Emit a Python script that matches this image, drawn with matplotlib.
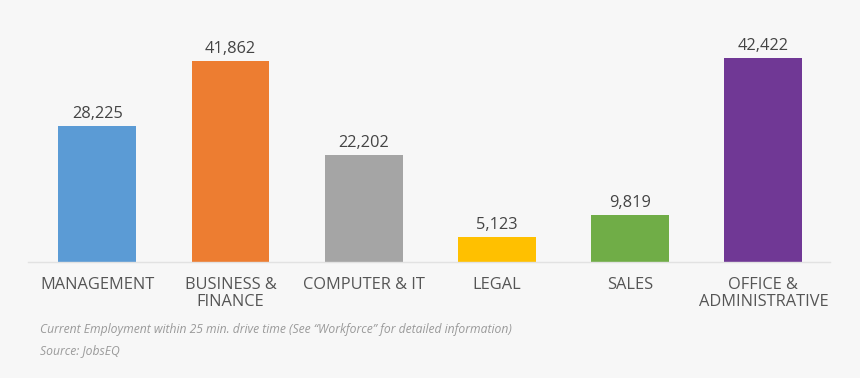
import matplotlib.pyplot as plt

# data
categories = ['MANAGEMENT', 'BUSINESS &\nFINANCE', 'COMPUTER & IT', 'LEGAL',
              'SALES', 'OFFICE &\nADMINISTRATIVE']
employment = [28225, 41862, 22202, 5123, 9819, 42422]
colors = ['#5b9bd5', '#ed7d31', '#a5a5a5', '#ffc000', '#70ad47', '#703895']

bg = '#f7f7f7'
plt.rcParams['font.family'] = ['Open Sans', 'DejaVu Sans']

fig = plt.figure(figsize=(8.6, 3.78), dpi=100, facecolor=bg)
ax = fig.add_axes([28/860, 116/378, 802/860, 232/378], facecolor=bg)

x = range(len(categories))
bars = ax.bar(x, employment, width=0.585, color=colors)
ax.bar_label(bars, labels=[f'{v:,}' for v in employment], padding=3,
             fontsize=11.8, color='#444444')

ax.set_xlim(-0.52, 5.5)
ax.set_ylim(0, 48240)
ax.set_xticks(list(x))
ax.set_xticklabels(categories, fontsize=11.8, color='#555555', linespacing=1.15,
                   va='top')
ax.tick_params(axis='x', length=0, pad=10.5)
ax.set_yticks([])
for s in ['top', 'right', 'left']:
    ax.spines[s].set_visible(False)
ax.spines['bottom'].set_color('#e2e2e2')
ax.spines['bottom'].set_linewidth(1)

fig.text(40/860, 1 - 330/378, 'Current Employment within 25 min. drive time '
         '(See \u201cWorkforce\u201d for detailed information)',
         fontsize=8.7, style='italic', color='#9a9a9a', va='center')
fig.text(40/860, 1 - 351/378, 'Source: JobsEQ', fontsize=8.7,
         style='italic', color='#9a9a9a', va='center')

fig.savefig('out.png', dpi=100, facecolor=bg)
